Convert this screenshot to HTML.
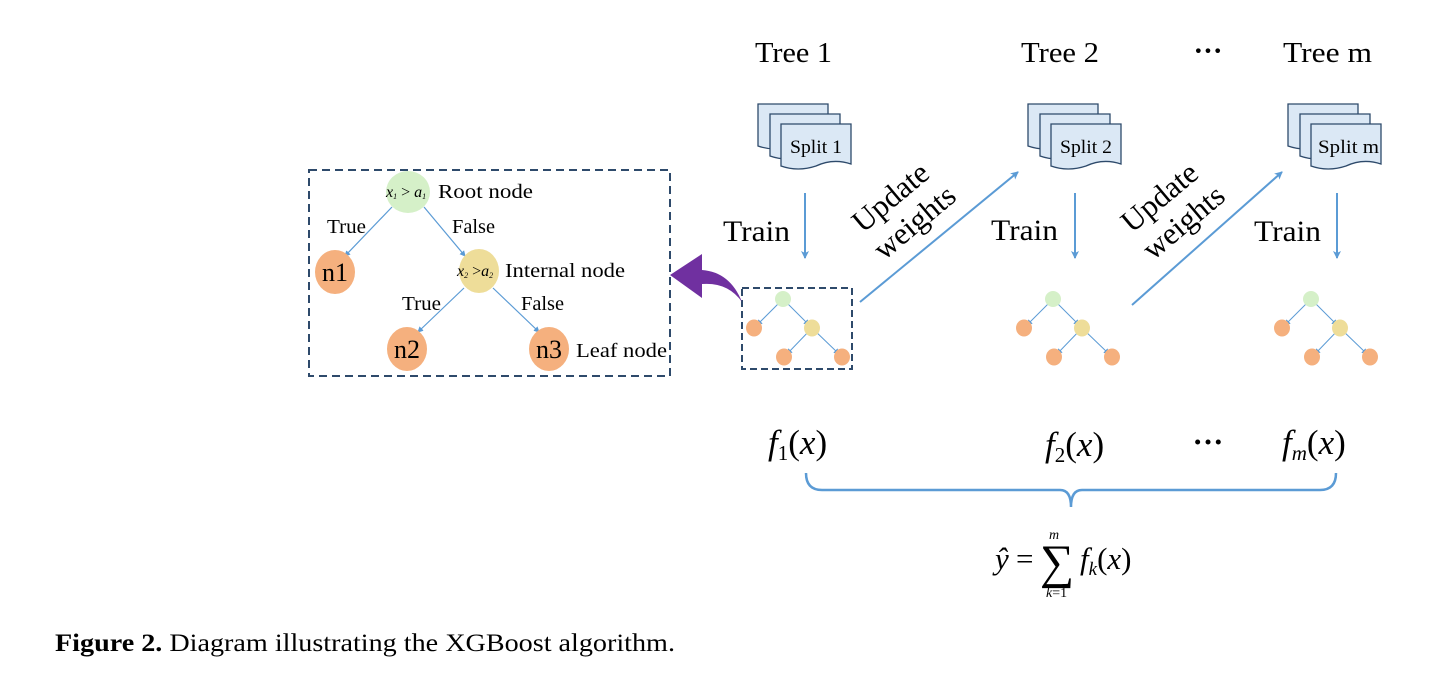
<!DOCTYPE html>
<html><head><meta charset="utf-8"><style>
html,body{margin:0;padding:0;background:#fff;}
svg{display:block;font-family:"Liberation Serif",serif;}
</style></head><body>
<svg width="1450" height="677" viewBox="0 0 1450 677" xmlns="http://www.w3.org/2000/svg">
<defs>
<marker id="a" markerWidth="8" markerHeight="8" refX="7" refY="4" orient="auto" markerUnits="userSpaceOnUse"><path d="M0,0 L8,4 L0,8 L2,4z" fill="#5b9bd5"/></marker>
<marker id="s" markerWidth="6" markerHeight="6" refX="5" refY="3" orient="auto" markerUnits="userSpaceOnUse"><path d="M0,0 L6,3 L0,6z" fill="#5b9bd5"/></marker>
<g id="doc">
<path d="M0,0 H70 V40 Q52,34 35,42 Q17,48 0,42Z" fill="#dbe8f5" stroke="#2e4a6b" stroke-width="1.3"/>
</g>
<g id="docs">
<use href="#doc" x="0" y="0"/><use href="#doc" x="12" y="10"/><use href="#doc" x="23" y="20"/>
</g>
<g id="mini">
<line x1="0" y1="0" x2="-26" y2="26" stroke="#5b9bd5" stroke-width="1" marker-end="url(#s)"/>
<line x1="0" y1="0" x2="26" y2="26" stroke="#5b9bd5" stroke-width="1" marker-end="url(#s)"/>
<line x1="29" y1="29" x2="4" y2="55" stroke="#5b9bd5" stroke-width="1" marker-end="url(#s)"/>
<line x1="29" y1="29" x2="56" y2="55" stroke="#5b9bd5" stroke-width="1" marker-end="url(#s)"/>
<ellipse cx="0" cy="0" rx="8" ry="8" fill="#d5f0c8"/>
<ellipse cx="-29" cy="29" rx="8" ry="8.5" fill="#f5b07e"/>
<ellipse cx="29" cy="29" rx="8" ry="8.5" fill="#eedd99"/>
<ellipse cx="1" cy="58" rx="8" ry="8.5" fill="#f5b07e"/>
<ellipse cx="59" cy="58" rx="8" ry="8.5" fill="#f5b07e"/>
</g>
</defs>

<g font-size="29" fill="#000">
<text x="755" y="62" textLength="77" lengthAdjust="spacingAndGlyphs">Tree 1</text>
<text x="1021" y="62" textLength="78" lengthAdjust="spacingAndGlyphs">Tree 2</text>
<text x="1208" y="60" font-weight="bold" text-anchor="middle">···</text>
<text x="1283" y="62" textLength="89" lengthAdjust="spacingAndGlyphs">Tree m</text>
</g>

<use href="#docs" x="758" y="104"/>
<use href="#docs" x="1028" y="104"/>
<use href="#docs" x="1288" y="104"/>
<g font-size="19">
<text x="790" y="153" textLength="52" lengthAdjust="spacingAndGlyphs">Split 1</text>
<text x="1060" y="153" textLength="52" lengthAdjust="spacingAndGlyphs">Split 2</text>
<text x="1318" y="153" textLength="61" lengthAdjust="spacingAndGlyphs">Split m</text>
</g>

<g stroke="#5b9bd5" stroke-width="2">
<line x1="805" y1="193" x2="805" y2="258" marker-end="url(#a)"/>
<line x1="1075" y1="193" x2="1075" y2="258" marker-end="url(#a)"/>
<line x1="1337" y1="193" x2="1337" y2="258" marker-end="url(#a)"/>
<line x1="860" y1="302" x2="1018" y2="172" marker-end="url(#a)"/>
<line x1="1132" y1="305" x2="1282" y2="172" marker-end="url(#a)"/>
</g>
<g font-size="30">
<text x="723" y="241" textLength="67" lengthAdjust="spacingAndGlyphs">Train</text>
<text x="991" y="240" textLength="67" lengthAdjust="spacingAndGlyphs">Train</text>
<text x="1254" y="241" textLength="67" lengthAdjust="spacingAndGlyphs">Train</text>
</g>
<g font-size="31" text-anchor="middle">
<text transform="translate(897,205) rotate(-40)">Update</text>
<text transform="translate(921,230) rotate(-40)">weights</text>
<text transform="translate(1166,205) rotate(-40)">Update</text>
<text transform="translate(1190,230) rotate(-40)">weights</text>
</g>

<use href="#mini" x="783" y="299"/>
<use href="#mini" x="1053" y="299"/>
<use href="#mini" x="1311" y="299"/>
<rect x="742" y="288" width="110" height="81" fill="none" stroke="#2e4a6b" stroke-width="2" stroke-dasharray="7,4"/>

<path d="M742,302 Q730,272 702,270 L702,254 L670,275 L702,298 L702,284 Q728,282 742,302Z" fill="#7030a0"/>

<rect x="309" y="170" width="361" height="206" fill="none" stroke="#2e4a6b" stroke-width="2" stroke-dasharray="8,5"/>
<g stroke="#5b9bd5" stroke-width="1.2">
<line x1="392" y1="207" x2="345" y2="256" marker-end="url(#s)"/>
<line x1="424" y1="207" x2="465" y2="256" marker-end="url(#s)"/>
<line x1="464" y1="288" x2="418" y2="332" marker-end="url(#s)"/>
<line x1="493" y1="288" x2="539" y2="332" marker-end="url(#s)"/>
</g>
<ellipse cx="408" cy="192" rx="22" ry="21" fill="#d5f0c8"/>
<ellipse cx="335" cy="272" rx="20" ry="22" fill="#f5b07e"/>
<ellipse cx="479" cy="271" rx="20" ry="22" fill="#eedd99"/>
<ellipse cx="407" cy="349" rx="20" ry="22" fill="#f5b07e"/>
<ellipse cx="549" cy="349" rx="20" ry="22" fill="#f5b07e"/>
<g font-size="26" text-anchor="middle">
<text x="335" y="281">n1</text><text x="407" y="358">n2</text><text x="549" y="358">n3</text>
</g>
<g font-size="20">
<text x="438" y="198" textLength="95" lengthAdjust="spacingAndGlyphs">Root node</text>
<text x="505" y="277" textLength="120" lengthAdjust="spacingAndGlyphs">Internal node</text>
<text x="576" y="357" textLength="91" lengthAdjust="spacingAndGlyphs">Leaf node</text>
<text x="327" y="233" textLength="39" lengthAdjust="spacingAndGlyphs">True</text>
<text x="452" y="233" textLength="43" lengthAdjust="spacingAndGlyphs">False</text>
<text x="402" y="310" textLength="39" lengthAdjust="spacingAndGlyphs">True</text>
<text x="521" y="310" textLength="43" lengthAdjust="spacingAndGlyphs">False</text>
</g>
<g font-size="16" font-style="italic">
<text x="386" y="197">x<tspan font-size="8" dy="2">1</tspan><tspan dy="-2" font-style="normal"> &gt; </tspan>a<tspan font-size="8" dy="2">1</tspan></text>
<text x="457" y="276">x<tspan font-size="8" dy="2">2</tspan><tspan dy="-2" font-style="normal"> &gt;</tspan>a<tspan font-size="8" dy="2">2</tspan></text>
</g>

<g font-size="35">
<text x="768" y="454"><tspan font-style="italic">f</tspan><tspan font-size="21" dy="6">1</tspan><tspan dy="-6">(</tspan><tspan font-style="italic">x</tspan>)</text>
<text x="1045" y="456"><tspan font-style="italic">f</tspan><tspan font-size="21" dy="6">2</tspan><tspan dy="-6">(</tspan><tspan font-style="italic">x</tspan>)</text>
<text x="1208" y="452" font-weight="bold" text-anchor="middle" font-size="31">···</text>
<text x="1282" y="454"><tspan font-style="italic">f</tspan><tspan font-size="21" dy="6" font-style="italic">m</tspan><tspan dy="-6">(</tspan><tspan font-style="italic">x</tspan>)</text>
</g>
<path d="M806,473 Q806,490 822,490 H1060 Q1071,490 1071,507 Q1071,490 1082,490 H1320 Q1336,490 1336,473" fill="none" stroke="#5b9bd5" stroke-width="2.5"/>
<g font-size="31">
<text x="995" y="569" font-style="italic">ŷ</text>
<text x="1016" y="569">=</text>
<text x="1040" y="578" font-size="48">∑</text>
<text x="1049" y="539" font-size="14" font-style="italic">m</text>
<text x="1046" y="597" font-size="14"><tspan font-style="italic">k</tspan>=1</text>
<text x="1080" y="569"><tspan font-style="italic">f</tspan><tspan font-size="19" dy="6" font-style="italic">k</tspan><tspan dy="-6">(</tspan><tspan font-style="italic">x</tspan>)</text>
</g>

<text x="55" y="651" font-size="25" textLength="620" lengthAdjust="spacingAndGlyphs"><tspan font-weight="bold">Figure 2.</tspan> Diagram illustrating the XGBoost algorithm.</text>
</svg>
</body></html>
